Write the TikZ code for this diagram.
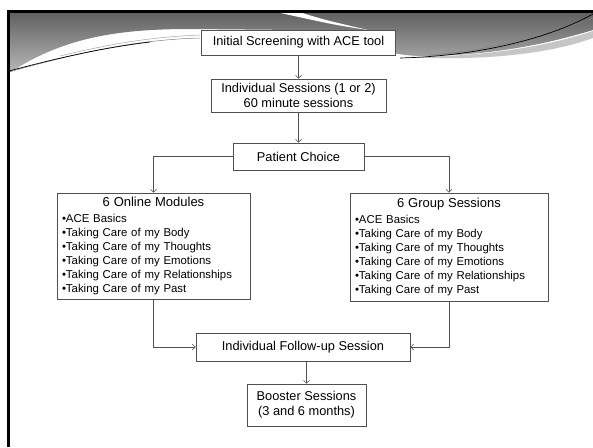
\documentclass[tikz,border=0pt]{standalone}
\usepackage{fontspec}
\setmainfont{Liberation Sans}
\usetikzlibrary{arrows.meta}
\definecolor{boxgray}{HTML}{505050}
\definecolor{textgray}{HTML}{000000}
\definecolor{headdark}{HTML}{606060}
\definecolor{headlight}{HTML}{B8B8B8}

\begin{document}
\begin{tikzpicture}[x=1pt,y=-1pt,
    box/.style={draw=boxgray, fill=white, line width=0.6pt, inner sep=4pt, align=center,
      text=textgray, font=\fontsize{12.8}{15}\selectfont},
    listbox/.style={box, align=left, inner xsep=5pt, font=\fontsize{11.4}{14}\selectfont},
    link/.style={draw=boxgray, line width=0.6pt, -{Straight Barb[length=3pt,width=6pt]}}]

        \useasboundingbox (0,0) rectangle (593,447);
        \fill[white] (0,0) rectangle (593,447);

        % slide header
        \shade[top color=headdark, bottom color=headlight] (9,12) -- (593,12) -- (593,30)
            .. controls (560,40) and (500,56) .. (420,56)
            .. controls (380,55) and (360,40) .. (300,30) -- (190,29)
            .. controls (110,29) and (60,40) .. (9,73) -- cycle;
        \fill[gray!45] (405,57) .. controls (500,57) and (560,42) .. (593,31) -- (593,38)
            .. controls (560,50) and (500,62) .. (405,57) -- cycle;
        \fill[white] (276,12) -- (299,12) .. controls (325,20) .. (368,30)
            .. controls (335,25) .. (276,12) -- cycle;
        \draw[gray, line width=0.5pt] (9,72) .. controls (70,55) and (130,40) .. (200,38);
        \draw[gray!70, line width=0.5pt] (60,56) .. controls (110,44) and (150,37) .. (200,35);
        \draw[black, line width=0.7pt] (9,71) .. controls (50,60) and (100,48) .. (150,42);
        \draw[gray, line width=0.5pt] (430,55) .. controls (500,50) and (560,30) .. (593,18);
        \draw[black, line width=0.7pt] (400,58) .. controls (480,56) and (550,38) .. (593,14);
        \draw[black, line width=3pt] (8,447) -- (8,11) -- (593,11);

        % flow chart
        \node[box, minimum width=194pt, minimum height=25pt] (screen) at (298.5,42.5) {Initial Screening with ACE tool};
        \node[box, minimum width=175pt, minimum height=33pt] (indiv) at (298.5,95.5) {Individual Sessions (1 or 2)\\60 minute sessions};
        \node[box, minimum width=131pt, minimum height=27pt] (choice) at (298.5,156.5) {Patient Choice};

        \node[listbox, text width=183pt, minimum height=106pt] (online) at (153.5,246)
            {\makebox[\linewidth]{\fontsize{13}{16}\selectfont 6 Online Modules}\\[2pt]
             \textbullet ACE Basics\\
             \textbullet Taking Care of my Body\\
             \textbullet Taking Care of my Thoughts\\
             \textbullet Taking Care of my Emotions\\
             \textbullet Taking Care of my Relationships\\
             \textbullet Taking Care of my Past};
        \node[listbox, text width=188pt, minimum height=108pt] (group) at (449,247)
            {\makebox[\linewidth]{\fontsize{13}{16}\selectfont 6 Group Sessions}\\[2pt]
             \textbullet ACE Basics\\
             \textbullet Taking Care of my Body\\
             \textbullet Taking Care of my Thoughts\\
             \textbullet Taking Care of my Emotions\\
             \textbullet Taking Care of my Relationships\\
             \textbullet Taking Care of my Past};

        \node[box, minimum width=214pt, minimum height=28pt] (follow) at (303,347) {Individual Follow-up Session};
        \node[box, minimum width=119pt, minimum height=42pt] (boost) at (306.5,405) {Booster Sessions\\(3 and 6 months)};

        \draw[link] (screen) -- (indiv);
        \draw[link] (indiv) -- (choice);
        \draw[link] (choice.west) -| (online.north);
        \draw[link] (choice.east) -| (group.north);
        \draw[link] (online.south) |- (follow.west);
        \draw[link] (group.south) |- (follow.east);
        \draw[link] (follow.south -| boost.north) -- (boost.north);
\end{tikzpicture}
\end{document}
